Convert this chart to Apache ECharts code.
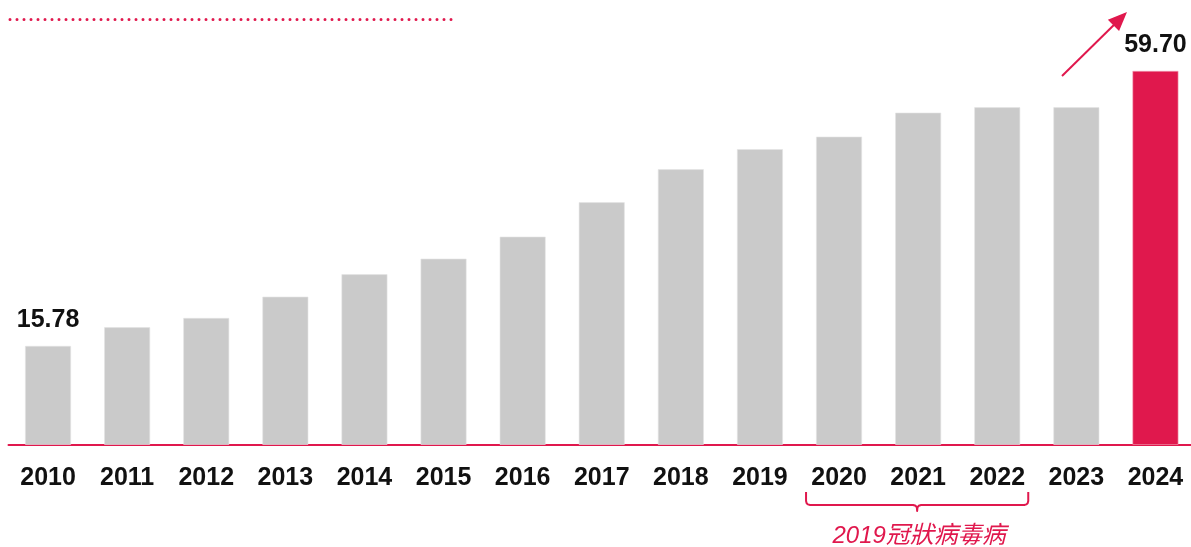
<!DOCTYPE html>
<html>
<head>
<meta charset="utf-8">
<script src="https://cdn.jsdelivr.net/npm/echarts@6/dist/echarts.min.js"></script>
<style>
html,body{margin:0;padding:0;background:#fff;overflow:hidden;}
#main{width:1195px;height:547px;}
</style>
</head>
<body>
<div id="main"></div>
<script>
const years = ['2010','2011','2012','2013','2014','2015','2016','2017','2018','2019','2020','2021','2022','2023','2024'];
const values = [15.78, 18.77, 20.25, 23.65, 27.23, 29.72, 33.24, 38.73, 44.0, 47.2, 49.21, 53.04, 53.9, 53.9, 59.70];
const labeledYears = ['2010', '2024'];
const highlightYear = '2024';
const bracketYears = ['2020', '2022'];
const bracketText = '2019冠狀病毒病';

const RED = '#E0184D';
const GRAY = '#CACACA';

const chart = echarts.init(document.getElementById('main'));

const seriesData = years.map((y, i) => {
  const item = {value: values[i]};
  if (y === highlightYear) {
    item.itemStyle = {color: RED, borderColor: '#f2a0b4', borderWidth: 0.6};
  }
  if (labeledYears.includes(y)) {
    item.label = {
      show: true,
      position: 'top',
      distance: 13,
      formatter: (p) => p.value.toFixed(2),
      fontFamily: 'Liberation Sans, Arial, sans-serif',
      fontWeight: 'bold',
      fontSize: 25,
      color: '#111'
    };
  }
  return item;
});

chart.setOption({
  animation: false,
  grid: {left: 8.5, right: 0, top: 6.5, bottom: 102.2, containLabel: false},
  xAxis: {
    type: 'category',
    data: years,
    axisLine: {show: true, lineStyle: {color: RED, width: 2}},
    axisTick: {show: false},
    axisLabel: {
      margin: 21,
      fontFamily: 'Liberation Sans, Arial, sans-serif',
      fontWeight: 'bold',
      fontSize: 25,
      color: '#111',
      interval: 0
    }
  },
  yAxis: {type: 'value', min: 0, max: 70, show: false, splitLine: {show: false}},
  series: [{
    type: 'bar',
    data: seriesData,
    barWidth: '58%',
    itemStyle: {color: GRAY, borderColor: '#e4e4e4', borderWidth: 0.6}
  }]
});

function drawGraphics() {
  const x0 = chart.convertToPixel({xAxisIndex: 0}, bracketYears[0]);
  const x1 = chart.convertToPixel({xAxisIndex: 0}, bracketYears[1]);
  const bl = x0 - 33, br = x1 + 31, bm = (bl + br) / 2;
  const top = 492, mid = 505;
  const bracketPts = [
    [bl, top], [bl, mid - 4], [bl + 0.6, mid - 1.8], [bl + 1.8, mid - 0.6], [bl + 4, mid],
    [bm - 4, mid], [bm - 1.5, mid + 0.8], [bm - 0.3, mid + 2.5], [bm, mid + 6],
    [bm + 0.3, mid + 2.5], [bm + 1.5, mid + 0.8], [bm + 4, mid],
    [br - 4, mid], [br - 1.8, mid - 0.6], [br - 0.6, mid - 1.8], [br, mid - 4], [br, top]
  ];

  // arrow
  const sx = 1062, sy = 76, tx = 1127, ty = 12;
  const dx = tx - sx, dy = ty - sy, len = Math.hypot(dx, dy);
  const ux = dx / len, uy = dy / len;
  const hl = 19, hw = 8;
  const bx = tx - ux * hl, by = ty - uy * hl;
  const px = -uy, py = ux;

  chart.setOption({
    graphic: [
      {
        type: 'line',
        shape: {x1: 10, y1: 19.5, x2: 457, y2: 19.5},
        style: {stroke: RED, lineWidth: 3, lineDash: [0, 7], lineCap: 'round'},
        silent: true
      },
      {
        type: 'polyline',
        shape: {points: bracketPts},
        style: {stroke: RED, lineWidth: 2, fill: null, lineJoin: 'round'},
        silent: true
      },
      {
        type: 'text',
        x: bm + 2,
        y: 536,
        style: {
          text: bracketText,
          fill: RED,
          font: 'italic 24px "Liberation Sans", "Noto Sans CJK TC", sans-serif',
          align: 'center',
          verticalAlign: 'middle'
        },
        silent: true
      },
      {
        type: 'line',
        shape: {x1: sx, y1: sy, x2: bx + ux * 2, y2: by + uy * 2},
        style: {stroke: RED, lineWidth: 2},
        silent: true
      },
      {
        type: 'polygon',
        shape: {points: [[tx, ty], [bx + px * hw, by + py * hw], [bx - px * hw, by - py * hw]]},
        style: {fill: RED},
        silent: true
      }
    ]
  });
}
drawGraphics();
</script>
</body>
</html>
